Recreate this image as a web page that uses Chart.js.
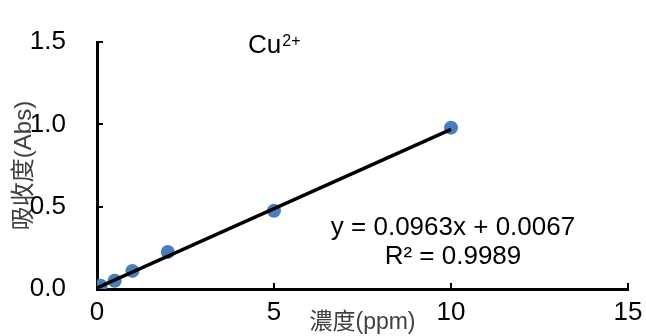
<!DOCTYPE html>
<html>
<head>
<meta charset="utf-8">
<script src="https://cdn.jsdelivr.net/npm/chart.js@4/dist/chart.umd.min.js"></script>
<style>
  html, body { margin: 0; padding: 0; background: #fff; }
  #wrap { width: 646px; height: 336px; }
</style>
</head>
<body>
<div id="wrap"><canvas id="chart" width="646" height="336"></canvas></div>
<script>
// measured points (concentration ppm -> absorbance)
const concentration = [0, 0.1, 0.5, 1, 2, 5, 10]
const absorbance = [0.01, 0.02, 0.05, 0.11, 0.225, 0.475, 0.98]

// trendline end points
const trendX = [0, 10]
const trendY = [0.0067, 0.9697]

const xTicks = [0, 5, 10, 15]
const yTicks = [0, 0.5, 1.0, 1.5]

const chartTitle = "Cu"
const chartTitleSup = "2+"
const equationLines = ["y = 0.0963x + 0.0067", "R\u00b2 = 0.9989"]
const xTitle = "濃度(ppm)"
const yTitle = "吸收度(Abs)"

const latin = "'Liberation Sans', Arial, sans-serif"
const cjk = "'Liberation Sans', 'Noto Sans CJK TC', sans-serif"

const scatterPoints = concentration.map((x, i) => ({ x: x, y: absorbance[i] }))
const trendPoints = trendX.map((x, i) => ({ x: x, y: trendY[i] }))

const textPlugin = {
  id: "textPlugin",
  afterDraw(chart) {
    const ctx = chart.ctx
    ctx.save()
    ctx.fillStyle = "#000"
    ctx.textBaseline = "alphabetic"
    ctx.textAlign = "left"
    ctx.font = "26px " + latin
    ctx.fillText(chartTitle, 248, 53)
    const w = ctx.measureText(chartTitle).width
    ctx.font = "16px " + latin
    ctx.fillText(chartTitleSup, 248 + w + 1, 46)

    ctx.font = "26px " + latin
    ctx.textAlign = "center"
    ctx.textBaseline = "middle"
    ctx.fillText(equationLines[0], 453, 228)
    ctx.fillText(equationLines[1], 453, 257)
    ctx.restore()
  }
}

const ctx = document.getElementById("chart")

/* eslint-disable no-undef */
new Chart(ctx, {
  type: "scatter",
  data: {
    datasets: [{
      type: "line",
      label: "trend",
      data: trendPoints,
      borderColor: "#000",
      borderWidth: 3.5,
      pointRadius: 0,
      fill: false,
      order: 0
    }, {
      label: "Cu",
      data: scatterPoints,
      backgroundColor: "#4a7ebb",
      borderWidth: 0,
      pointRadius: 7,
      order: 1
    }]
  },
  options: {
    responsive: false,
    animation: false,
    layout: {
      padding: { top: 42, right: 18, left: 0, bottom: 0 }
    },
    plugins: {
      legend: { display: false },
      tooltip: { enabled: false }
    },
    scales: {
      x: {
        type: "linear",
        min: 0,
        max: 15,
        afterFit: (scale) => {
          scale.height = 47
          scale.paddingLeft = 0
          scale.paddingRight = 0
        },
        afterBuildTicks: (scale) => { scale.ticks = xTicks.map(v => ({ value: v })) },
        border: { display: true, color: "#000", width: 3 },
        grid: {
          drawOnChartArea: false,
          drawTicks: true,
          tickLength: -6,
          color: "#000",
          lineWidth: 2
        },
        ticks: {
          padding: 14,
          color: "#000",
          font: { family: latin, size: 26 },
          maxRotation: 0,
          callback: (v) => String(v)
        },
        title: {
          display: true,
          text: xTitle,
          color: "#404040",
          font: { family: cjk, size: 23 },
          padding: { top: -6, bottom: 0 }
        }
      },
      y: {
        type: "linear",
        min: 0,
        max: 1.5,
        afterFit: (scale) => {
          scale.width = 97
          scale.paddingTop = 0
          scale.paddingBottom = 0
        },
        afterBuildTicks: (scale) => { scale.ticks = yTicks.map(v => ({ value: v })) },
        border: { display: true, color: "#000", width: 3 },
        grid: {
          drawOnChartArea: false,
          drawTicks: true,
          tickLength: -6,
          color: "#000",
          lineWidth: 2
        },
        ticks: {
          padding: 37,
          color: "#000",
          font: { family: latin, size: 26 },
          callback: (v) => Number(v).toFixed(1)
        },
        title: {
          display: true,
          text: yTitle,
          color: "#404040",
          font: { family: cjk, size: 24 },
          padding: { top: 10, bottom: 0 }
        }
      }
    }
  },
  plugins: [textPlugin]
})
</script>
</body>
</html>
